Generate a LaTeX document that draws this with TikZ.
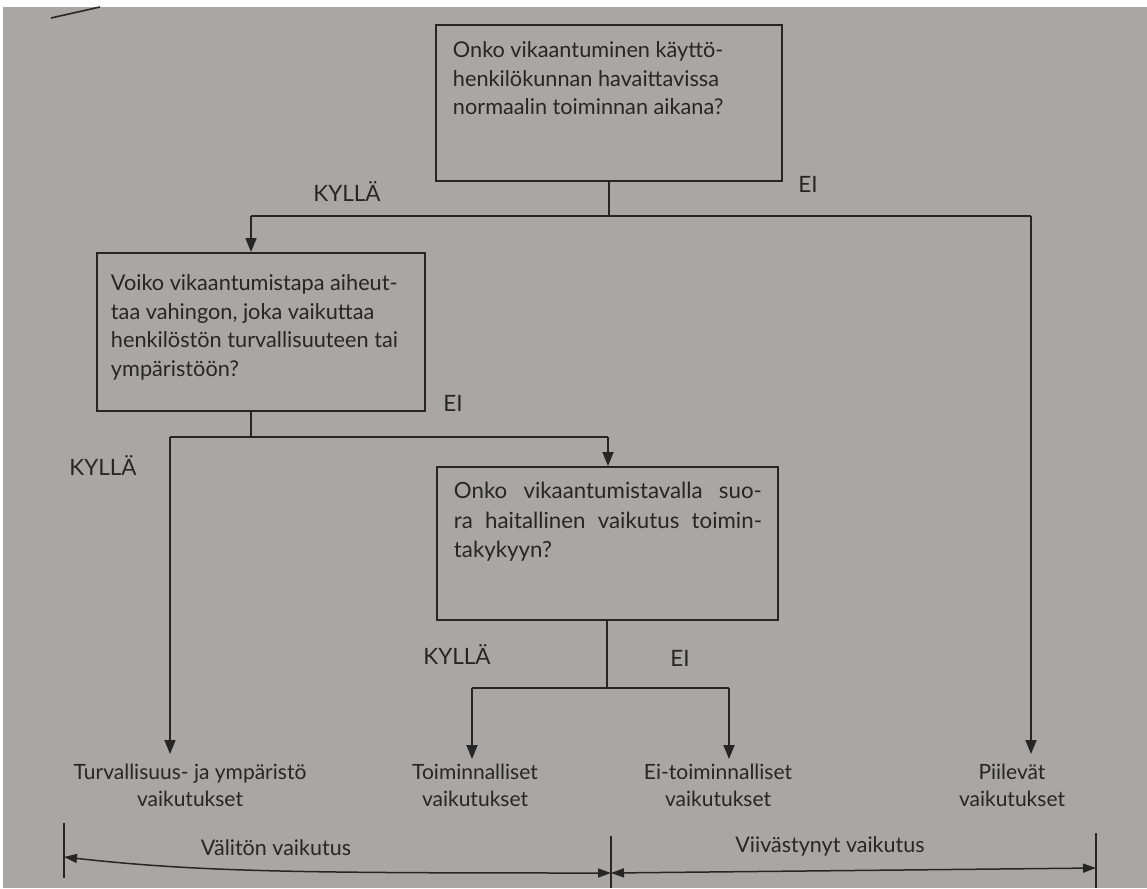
\documentclass[tikz,border=0pt]{standalone}
\usepackage{fontspec}
\setmainfont{Lato}
\usetikzlibrary{arrows.meta}
\definecolor{paper}{HTML}{A8A7A5}
\definecolor{ink}{HTML}{262626}
\tikzset{
  every node/.style={text=ink},
  qbox/.style={draw=ink, line width=1.9pt, inner sep=0pt, anchor=north west},
  lab/.style={inner sep=0pt, font=\fontsize{22.5}{26}\selectfont},
  outc/.style={inner sep=0pt, align=center, anchor=north, font=\fontsize{21}{27}\selectfont},
  conn/.style={draw=ink, line width=1.7pt},
  arr/.style={conn, -{Triangle[length=14pt,width=11pt]}},
  span/.style={draw=ink, line width=1.5pt, {Triangle[length=13pt,width=9pt]}-{Triangle[length=13pt,width=9pt]}},
  tick/.style={draw=ink, line width=1.3pt}
}
\newcommand{\qbody}[6]{\parbox[c][#2][t]{#1}{\fontsize{21.7}{#4}\selectfont\raggedright\leftskip=#3\relax\rule{0pt}{#5}#6\par}}
\begin{document}
\begin{tikzpicture}[x=1pt,y=-1pt]
\useasboundingbox (0,0) rectangle (1147,888);
\fill[paper] (0,0) rectangle (1147,888);
\fill[white] (0,0) rectangle (1147,7);
\fill[white] (0,0) rectangle (3,888);
\draw[ink, line width=1.6pt] (51,18) -- (100,7);

% question boxes
\node[qbox] (q1) at (435,24) {\qbody{346pt}{156pt}{17pt}{28.5pt}{33pt}{%
Onko vikaantuminen käyttö-\\henkilökunnan havaittavissa\\normaalin toiminnan aikana?}};
\node[qbox] (q2) at (96,252) {\qbody{328pt}{158pt}{14pt}{28.5pt}{38pt}{%
Voiko vikaantumistapa aiheut-\\taa vahingon, joka vaikuttaa\\henkilöstön turvallisuuteen tai\\ympäristöön?}};
\node[qbox] (q3) at (436,466) {\parbox[c][153pt][t]{341pt}{\fontsize{22.3}{29.5}\selectfont\leftskip=17pt\rightskip=16pt\parfillskip=0pt plus 1fil\rule{0pt}{32pt}%
Onko vikaantumistavalla suo-\linebreak ra haitallinen vaikutus toimin-\linebreak takykyyn?\par}};

% outcomes
\node[outc] (o1) at (190,764) {Turvallisuus- ja ympäristö\\vaikutukset};
\node[outc] (o2) at (475,764) {Toiminnalliset\\vaikutukset};
\node[outc] (o3) at (718,764) {Ei-toiminnalliset\\vaikutukset};
\node[outc] (o4) at (1012,764) {Piilevät\\vaikutukset};

% labels
\node[lab] (k1) at (347,191) {KYLLÄ};
\node[lab] (e1) at (808,184) {EI};
\node[lab] (e2) at (453,403) {EI};
\node[lab] (k2) at (103,465) {KYLLÄ};
\node[lab] (k3) at (457,654) {KYLLÄ};
\node[lab] (e3) at (680,658) {EI};

% junction coordinates
\coordinate (j1) at (609,216);
\coordinate (j1l) at (251,216);
\coordinate (j1r) at (1031,216);
\coordinate (j2) at (251,437);
\coordinate (j2l) at (170,437);
\coordinate (j2r) at (608,437);
\coordinate (j3) at (607,688);
\coordinate (j3l) at (472,688);
\coordinate (j3r) at (729,688);

% connectors
\draw[conn] (q1.south -| j1) -- (j1);
\draw[conn] (j1l) -- (j1r);
\draw[arr] (j1l) -- (q2.north -| j1l);
\draw[arr] (j1r) -- ([yshift=10pt]o4.north -| j1r);
\draw[conn] (q2.south -| j2) -- (j2);
\draw[conn] (j2l) -- (j2r);
\draw[arr] (j2l) -- ([yshift=10pt]o1.north -| j2l);
\draw[arr] (j2r) -- (q3.north -| j2r);
\draw[conn] (q3.south -| j3) -- (j3);
\draw[conn] (j3l) -- (j3r);
\draw[arr] (j3l) -- ([yshift=5pt]o2.north -| j3l);
\draw[arr] (j3r) -- ([yshift=5pt]o3.north -| j3r);

% bottom span
\coordinate (b1t) at (64,823);
\coordinate (b1b) at (64,878);
\coordinate (b2t) at (611,836);
\coordinate (b2b) at (611,888);
\coordinate (b3t) at (1096,833);
\coordinate (b3b) at (1096,888);
\draw[tick] (b1t) -- (b1b);
\draw[tick] (b2t) -- (b2b);
\draw[tick] (b3t) -- (b3b);
\draw[span] (b1t |- 0,857) .. controls (200,872) and (300,873) .. (b2t |- 0,873);
\draw[span] (b2t |- 0,873) -- (b3t |- 0,868);
\node[lab, font=\fontsize{21.5}{24}\selectfont] (s1) at (276,848) {Välitön vaikutus};
\node[lab, font=\fontsize{21.5}{24}\selectfont] (s2) at (830,846) {Viivästynyt vaikutus};
\end{tikzpicture}
\end{document}
